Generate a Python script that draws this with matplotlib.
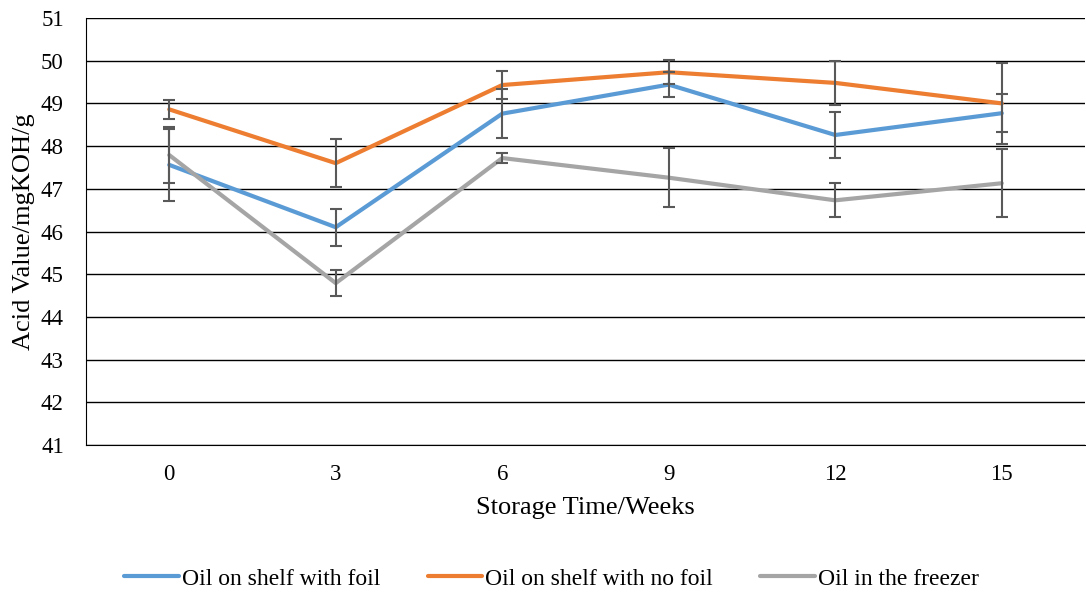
import matplotlib
matplotlib.use("Agg")
import matplotlib.pyplot as plt

plt.rcParams['font.family'] = ['Liberation Serif', 'DejaVu Serif']

weeks = ['0', '3', '6', '9', '12', '15']
foil = [47.56, 46.10, 48.76, 49.44, 48.26, 48.77]
foil_err = [0.85, 0.43, 0.57, 0.29, 0.53, 0.45]
no_foil = [48.86, 47.60, 49.43, 49.73, 49.48, 49.00]
no_foil_err = [0.23, 0.56, 0.32, 0.28, 0.52, 0.95]
freezer = [47.79, 44.79, 47.72, 47.26, 46.73, 47.13]
freezer_err = [0.65, 0.30, 0.12, 0.69, 0.40, 0.80]

series = [
    ('Oil on shelf with foil', foil, foil_err, '#5b9bd5'),
    ('Oil on shelf with no foil', no_foil, no_foil_err, '#ed7d31'),
    ('Oil in the freezer', freezer, freezer_err, '#a5a5a5'),
]

fig = plt.figure(figsize=(10.86, 5.92), dpi=100)
ax = fig.add_axes([0.0792, 0.2483, 0.9199, 0.7213])

x = list(range(len(weeks)))
for name, vals, err, col in series:
    ax.plot(x, vals, color=col, lw=3.0, label=name, solid_capstyle='round', zorder=3)
    ax.errorbar(x, vals, yerr=err, fmt='none', ecolor='#595959', elinewidth=1.5,
                capsize=4.5, capthick=1.5, zorder=4)

ax.set_xlim(-0.5, 5.5)
ax.set_ylim(41, 51)
ax.set_yticks(range(41, 52))
ax.set_xticks(x)
ax.set_xticklabels(weeks)
ax.yaxis.grid(True, color='black', lw=1)
ax.set_axisbelow(True)
for s in ['top', 'right']:
    ax.spines[s].set_visible(False)
ax.spines['left'].set_color('black')
ax.spines['bottom'].set_color('black')
ax.tick_params(axis='both', length=0, labelsize=16.5)
ax.tick_params(axis='x', pad=14)
ax.tick_params(axis='y', pad=16)

ax.set_xlabel('Storage Time/Weeks', fontsize=19, labelpad=8)
ax.set_ylabel('Acid Value/mgKOH/g', fontsize=19, labelpad=4)

fig.legend(loc='center', bbox_to_anchor=(0.508, 0.022), ncol=3, frameon=False,
           fontsize=17, handlelength=2.3, columnspacing=2.0, handletextpad=0.15)

fig.savefig('out.png', dpi=100)
